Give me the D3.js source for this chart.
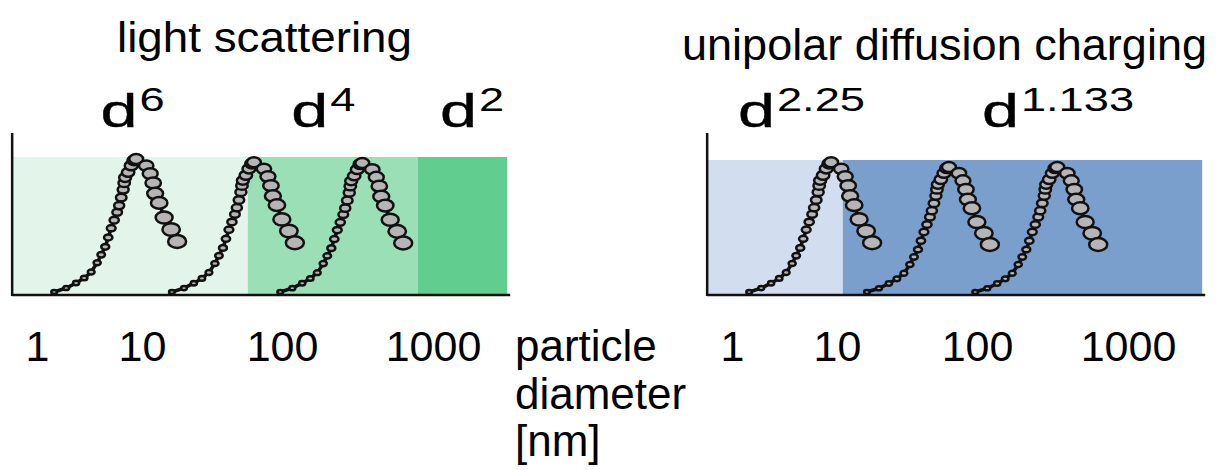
<!DOCTYPE html>
<html lang="en">
<head>
<meta charset="utf-8">
<title>Size dependence of light scattering and diffusion charging</title>
<script src="https://d3js.org/d3.v7.min.js"></script>
<style>
  html, body { margin: 0; padding: 0; background: #fff; }
  svg text { font-family: "Liberation Sans", Arial, sans-serif; fill: #000; }
</style>
</head>
<body>
<svg width="1220" height="470"></svg>
<script>
// tick labels of the diameter axis [nm]
var sizeTicks = [1, 10, 100, 1000];

// modes of the three example size distributions [nm] (same in both panels)
var peakDiameters = [8.8, 63, 340];

// one distribution: offset from the mode in decades and relative height
var shapeOffset = [-0.631, -0.538, -0.462, -0.400, -0.346, -0.300, -0.269, -0.238,
  -0.215, -0.192, -0.169, -0.146, -0.131, -0.115, -0.100, -0.092, -0.085, -0.062,
  -0.038, -0.015, 0, 0.077, 0.108, 0.131, 0.146, 0.177, 0.215, 0.269, 0.315];
var shapeHeight = [0.00, 0.03, 0.068, 0.105, 0.15, 0.22, 0.28, 0.34,
  0.41, 0.48, 0.54, 0.60, 0.65, 0.71, 0.77, 0.82, 0.86, 0.90,
  0.95, 0.99, 1.0, 0.95, 0.89, 0.82, 0.74, 0.67, 0.56, 0.47, 0.38];

// light scattering regimes: band edges [nm] and exponents
var lightEdges = [0.58, 57, 795, 3100];
var lightExponents = ["6", "4", "2"];
var lightPeakHeight = [1.0, 0.975, 0.97];

// unipolar diffusion charging regimes
var chargeEdges = [0.58, 11, 3100];
var chargeExponents = ["2.25", "1.133"];
var chargePeakHeight = [0.975, 0.94, 0.94];

var axisTitle = ["particle", "diameter", "[nm]"];

var svg = d3.select("svg");

// stretched log axis, same for both panels
var x = d3.scaleLog().domain(sizeTicks).range([25, 130, 270, 421]);
var spread = d3.scaleLinear().domain([0, 1]).range([0, 130]);
var y = d3.scaleLinear().domain([0, 1]).range([292, 159]);
var size = d3.scalePow().exponent(1.2).domain([0, shapeOffset.length - 1]).range([2.8, 9]);

function panel(left, top, edges, colors, exps, nudges, heights) {
  var g = svg.append("g").attr("transform", "translate(" + left + ",0)");

  // regime bands
  g.selectAll("rect.band")
    .data(colors)
    .enter()
    .append("rect")
    .attr("class", "band")
    .attr("x", function(d, i) { return x(edges[i]); })
    .attr("width", function(d, i) { return x(edges[i + 1]) - x(edges[i]); })
    .attr("y", top)
    .attr("height", 294 - top)
    .attr("fill", function(d) { return d; });

  // distributions
  var line = d3.line().x(function(d) { return d.x; }).y(function(d) { return d.y; });
  peakDiameters.forEach(function(peak, p) {
    var pts = shapeOffset.map(function(o, i) {
      return { x: x(peak) + spread(o), y: y(heights[p] * shapeHeight[i]), i: i };
    });
    g.append("path")
      .attr("d", line(pts))
      .attr("fill", "none")
      .attr("stroke", "#111")
      .attr("stroke-width", 3.5);
    g.append("g").selectAll("ellipse")
      .data(pts)
      .enter()
      .append("ellipse")
      .attr("cx", function(d) { return d.x; })
      .attr("cy", function(d) { return d.y; })
      .attr("rx", function(d) { return size(d.i); })
      .attr("ry", function(d) { return size(d.i) * 0.72; })
      .attr("fill", "#b5b5b5")
      .attr("stroke", "#111")
      .attr("stroke-width", 2.5);
  });

  // axis lines
  var x0 = x(edges[0]), x1 = x(edges[edges.length - 1]);
  g.append("line").attr("x1", x0).attr("x2", x0).attr("y1", 133).attr("y2", 296)
    .attr("stroke", "#111").attr("stroke-width", 2.5);
  g.append("line").attr("x1", x0).attr("x2", x1 + 3).attr("y1", 295).attr("y2", 295)
    .attr("stroke", "#111").attr("stroke-width", 2.5);

  // tick labels
  var ax = g.append("g")
    .attr("transform", "translate(0,295)")
    .call(d3.axisBottom(x).tickValues(sizeTicks).tickSize(0).tickFormat(d3.format("d")));
  ax.select(".domain").remove();
  ax.selectAll("text")
    .attr("y", 66)
    .attr("dy", 0)
    .attr("fill", "#000")
    .style("font-size", "43px")
    .style("font-family", "'Liberation Sans', Arial, sans-serif");

  // d^n labels, stretched like the original
  exps.forEach(function(e, i) {
    var cx = (x(edges[i]) + x(edges[i + 1])) / 2 + nudges[i];
    var sup = g.append("text").text(e).style("font-size", "33px");
    var supW = sup.node().getComputedTextLength() * 1.37;
    var start = cx - (38 + supW) / 2;
    g.append("text").text("d")
      .attr("x", start).attr("y", 127)
      .attr("textLength", 37).attr("lengthAdjust", "spacingAndGlyphs")
      .attr("stroke", "#000").attr("stroke-width", 0.4)
      .style("font-size", "47px");
    sup.attr("x", start + 39).attr("y", 111)
      .attr("textLength", supW).attr("lengthAdjust", "spacingAndGlyphs");
  });
  return g;
}

panel(12, 157, lightEdges, ["#e3f5ea", "#9adfb6", "#61cd8e"], lightExponents, [2, -10, 9], lightPeakHeight);
panel(707, 160, chargeEdges, ["#d2deef", "#7a9fcc"], chargeExponents, [26, 35], chargePeakHeight);

// titles
svg.append("text").text("light scattering")
  .attr("x", 117).attr("y", 52)
  .attr("textLength", 295).attr("lengthAdjust", "spacingAndGlyphs")
  .style("font-size", "42px");
svg.append("text").text("unipolar diffusion charging")
  .attr("x", 682).attr("y", 60)
  .attr("textLength", 525).attr("lengthAdjust", "spacingAndGlyphs")
  .style("font-size", "44px");

// axis title
svg.append("text")
  .attr("x", 515).attr("y", 361)
  .style("font-size", "44px")
  .selectAll("tspan")
  .data(axisTitle)
  .enter()
  .append("tspan")
  .attr("x", 515)
  .attr("dy", function(d, i) { return i === 0 ? 0 : 47.5; })
  .text(function(d) { return d; });
</script>
</body>
</html>
